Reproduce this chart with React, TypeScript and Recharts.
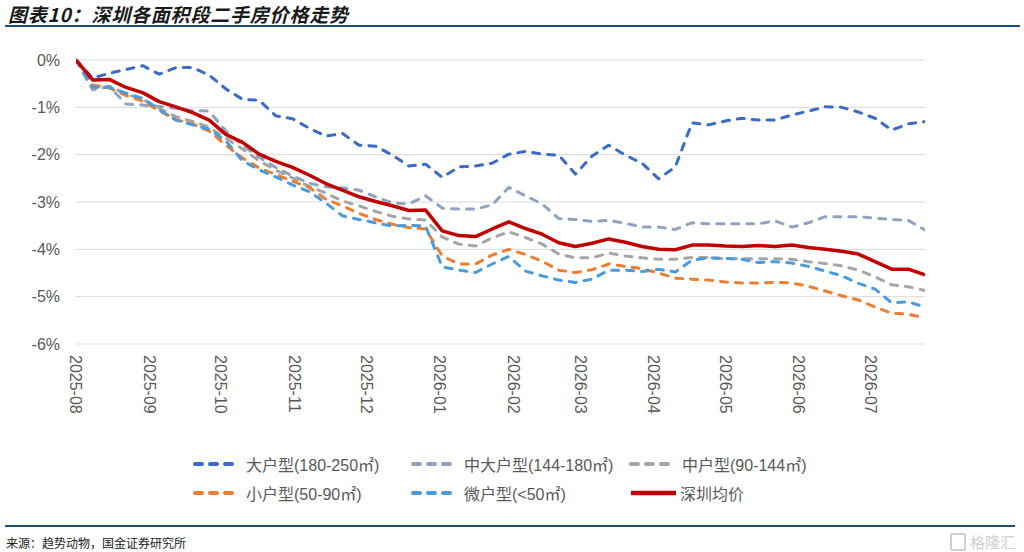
import React from "react";
import { LineChart, Line, XAxis, YAxis, CartesianGrid } from "recharts";

// month tick labels on the x axis (weekly data starting 2025-08-01)
const monthLabels = [
  "2025-08", "2025-09", "2025-10", "2025-11", "2025-12", "2026-01",
  "2026-02", "2026-03", "2026-04", "2026-05", "2026-06", "2026-07",
];
const startDate = "2025-08-01";
const weekCount = 52;
const yTicks = [0, -1, -2, -3, -4, -5, -6];

// cumulative price change, %
const largeUnit = [
  0, -0.38, -0.28, -0.2, -0.12, -0.3, -0.16, -0.16, -0.32, -0.61, -0.83, -0.85, -1.18,
  -1.24, -1.44, -1.61, -1.55, -1.8, -1.82, -2.01, -2.24, -2.2, -2.48, -2.26, -2.24, -2.18,
  -1.99, -1.93, -1.99, -2.01, -2.41, -2.03, -1.8, -2.01, -2.18, -2.51, -2.26, -1.33, -1.37,
  -1.29, -1.23, -1.27, -1.27, -1.16, -1.08, -0.99, -1.0, -1.1, -1.23, -1.48, -1.35, -1.3,
];
const midLargeUnit = [
  0, -0.63, -0.56, -0.93, -0.95, -0.98, -1.02, -1.07, -1.08, -1.5, -1.8, -2.05, -2.27,
  -2.45, -2.6, -2.68, -2.7, -2.75, -2.89, -3.02, -3.04, -2.87, -3.13, -3.15, -3.15, -3.06,
  -2.69, -2.87, -3.04, -3.35, -3.37, -3.41, -3.39, -3.45, -3.53, -3.53, -3.58, -3.44, -3.46,
  -3.46, -3.46, -3.46, -3.4, -3.53, -3.44, -3.31, -3.31, -3.31, -3.34, -3.37, -3.39, -3.59,
];
const midUnit = [
  0, -0.62, -0.55, -0.72, -0.83, -1.02, -1.2, -1.3, -1.42, -1.65, -1.88, -2.13, -2.33,
  -2.49, -2.67, -2.81, -2.98, -3.08, -3.2, -3.3, -3.36, -3.38, -3.74, -3.89, -3.93, -3.76,
  -3.63, -3.75, -3.89, -4.1, -4.18, -4.18, -4.08, -4.14, -4.18, -4.21, -4.21, -4.17, -4.17,
  -4.2, -4.2, -4.2, -4.2, -4.21, -4.26, -4.3, -4.35, -4.44, -4.58, -4.75, -4.79, -4.87,
];
const smallUnit = [
  0, -0.53, -0.59, -0.75, -0.87, -1.07, -1.26, -1.35, -1.5, -1.8, -2.07, -2.28, -2.42,
  -2.56, -2.69, -2.94, -3.08, -3.24, -3.37, -3.47, -3.54, -3.57, -4.14, -4.31, -4.31, -4.12,
  -4.0, -4.11, -4.25, -4.44, -4.49, -4.43, -4.31, -4.36, -4.41, -4.5, -4.61, -4.63, -4.65,
  -4.69, -4.71, -4.71, -4.7, -4.71, -4.78, -4.88, -4.98, -5.07, -5.22, -5.35, -5.37, -5.45,
];
const microUnit = [
  0, -0.57, -0.58, -0.7, -0.81, -1.05, -1.27, -1.37, -1.46, -1.71, -2.13, -2.32, -2.47,
  -2.64, -2.78, -3.02, -3.29, -3.37, -3.44, -3.51, -3.49, -3.51, -4.37, -4.44, -4.49, -4.31,
  -4.15, -4.46, -4.56, -4.65, -4.7, -4.63, -4.44, -4.44, -4.47, -4.42, -4.48, -4.23, -4.18,
  -4.19, -4.21, -4.28, -4.26, -4.29, -4.36, -4.46, -4.56, -4.72, -4.84, -5.13, -5.11, -5.22,
];
const cityAverage = [
  0, -0.42, -0.41, -0.58, -0.69, -0.88, -0.99, -1.11, -1.27, -1.57, -1.74, -1.99, -2.14,
  -2.27, -2.43, -2.61, -2.75, -2.89, -2.99, -3.08, -3.18, -3.17, -3.61, -3.71, -3.73, -3.57,
  -3.42, -3.56, -3.68, -3.86, -3.94, -3.87, -3.78, -3.85, -3.94, -4.0, -4.01, -3.91, -3.91,
  -3.93, -3.94, -3.92, -3.94, -3.91, -3.96, -4.0, -4.04, -4.1, -4.26, -4.42, -4.42, -4.54,
];

const series = [
  { key: "large", name: "大户型(180-250㎡)", values: largeUnit, color: "#3A6BC6", dashed: true },
  { key: "midLarge", name: "中大户型(144-180㎡)", values: midLargeUnit, color: "#8FA3C0", dashed: true },
  { key: "mid", name: "中户型(90-144㎡)", values: midUnit, color: "#A5A5A5", dashed: true },
  { key: "small", name: "小户型(50-90㎡)", values: smallUnit, color: "#ED7D31", dashed: true },
  { key: "micro", name: "微户型(<50㎡)", values: microUnit, color: "#4A9BDC", dashed: true },
  { key: "avg", name: "深圳均价", values: cityAverage, color: "#C00000", dashed: false },
];

const DAY = 86400000;
const START = Date.parse(startDate + "T00:00:00Z");
const dayOf = (ym) => {
  const [y, m] = ym.split("-").map(Number);
  return (Date.UTC(y, m - 1, 1) - START) / DAY;
};
const monthTicks = monthLabels.map(dayOf);
const lastDay = (weekCount - 1) * 7;

const rows = Array.from({ length: weekCount }, (_, i) => {
  const row = { day: i * 7 };
  series.forEach((s) => {
    row[s.key] = s.values[i];
  });
  return row;
});

const FONT = "'Liberation Sans', Arial, 'Noto Sans CJK SC', sans-serif";

const MonthTick = ({ x, y, payload }) => {
  const idx = monthTicks.indexOf(payload.value);
  return (
    <text
      transform={`translate(${x},${y}) rotate(90)`}
      x={0}
      y={0}
      dy="0.35em"
      textAnchor="start"
      fill="#595959"
      fontSize={16}
      fontFamily={FONT}
    >
      {monthLabels[idx]}
    </text>
  );
};

const LegendSample = ({ color, dashed }) => (
  <svg width={48} height={12} style={{ display: "block" }}>
    <line
      x1={3}
      y1={6}
      x2={dashed ? 44 : 48}
      y2={6}
      stroke={color}
      strokeWidth={dashed ? 4 : 4.5}
      strokeDasharray={dashed ? "7 8" : undefined}
      strokeLinecap={dashed ? "round" : "butt"}
    />
  </svg>
);

export default function App() {
  return (
    <div
      style={{
        position: "relative",
        width: 1024,
        height: 552,
        background: "#fff",
        fontFamily: FONT,
        overflow: "hidden",
      }}
    >
      <style>{`body{margin:0}`}</style>
      <div
        style={{
          position: "absolute",
          left: 8,
          top: 0,
          fontSize: 19,
          fontWeight: "bold",
          fontStyle: "italic",
          letterSpacing: 0.8,
          color: "#1a1a1a",
          fontFamily: "'Noto Sans CJK SC', sans-serif",
          whiteSpace: "nowrap",
        }}
      >
        图表10：深圳各面积段二手房价格走势
      </div>
      <div style={{ position: "absolute", left: 5, top: 25, width: 1015, height: 1.5, background: "#1F4E79" }} />

      <LineChart
        width={1024}
        height={432}
        data={rows}
        margin={{ top: 60, right: 99, left: 0, bottom: 0 }}
        style={{ position: "absolute", left: 0, top: 0 }}
      >
        <CartesianGrid vertical={false} stroke="#D9D9D9" strokeWidth={1} />
        <XAxis
          dataKey="day"
          type="number"
          domain={[0, lastDay]}
          ticks={monthTicks}
          interval={0}
          tick={<MonthTick />}
          tickLine={false}
          axisLine={false}
          tickSize={0}
          tickMargin={11}
          height={88}
          allowDataOverflow
        />
        <XAxis
          xAxisId="top"
          orientation="top"
          type="number"
          domain={[0, lastDay]}
          ticks={monthTicks}
          interval={0}
          tick={false}
          axisLine={false}
          tickLine={{ stroke: "#D9D9D9" }}
          tickSize={5}
          mirror
          height={0}
          allowDataOverflow
        />
        <YAxis
          domain={[-6, 0]}
          ticks={yTicks}
          interval={0}
          tickFormatter={(v) => `${v}%`}
          width={76}
          axisLine={false}
          tickLine={false}
          tickSize={0}
          tickMargin={16}
          tick={{ fill: "#595959", fontSize: 16, fontFamily: FONT }}
        />
        {series.map((s) => (
          <Line
            key={s.key}
            type="linear"
            dataKey={s.key}
            name={s.name}
            stroke={s.color}
            strokeWidth={s.dashed ? 3 : 3.5}
            strokeDasharray={s.dashed ? "7 8" : undefined}
            strokeLinecap={s.dashed ? "round" : "butt"}
            strokeLinejoin="round"
            dot={false}
            activeDot={false}
            isAnimationActive={false}
          />
        ))}
      </LineChart>

      <div
        style={{
          position: "absolute",
          left: 192,
          top: 449,
          width: 660,
          display: "flex",
          flexWrap: "wrap",
        }}
      >
        {series.map((s) => (
          <div
            key={s.key}
            style={{ width: 218, height: 29, display: "flex", alignItems: "center" }}
          >
            <LegendSample color={s.color} dashed={s.dashed} />
            <span
              style={{
                marginLeft: s.dashed ? 6 : 4,
                fontSize: 16,
                color: "#595959",
                whiteSpace: "nowrap",
                fontFamily: FONT,
              }}
            >
              {s.name}
            </span>
          </div>
        ))}
      </div>

      <div style={{ position: "absolute", left: 5, top: 525, width: 1010, height: 1.5, background: "#1F4E79" }} />
      <div
        style={{
          position: "absolute",
          left: 6,
          top: 534,
          fontSize: 12,
          color: "#222",
          fontFamily: "'Noto Sans CJK SC', sans-serif",
          whiteSpace: "nowrap",
        }}
      >
        来源：趋势动物，国金证券研究所
      </div>
      <div
        style={{
          position: "absolute",
          left: 950,
          top: 531,
          display: "flex",
          alignItems: "center",
          color: "#cfcfcf",
          fontSize: 15,
          fontFamily: "'Noto Sans CJK SC', sans-serif",
        }}
      >
        <div style={{ width: 12, height: 14, border: "2px solid #cfcfcf", borderRadius: 2, marginRight: 4 }} />
        格隆汇
      </div>
    </div>
  );
}
